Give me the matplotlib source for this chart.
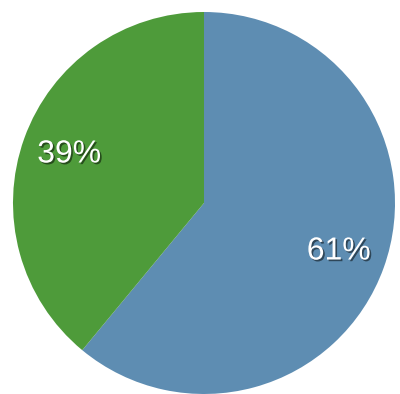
import matplotlib
matplotlib.use("Agg")
import matplotlib.pyplot as plt
import matplotlib.patheffects as pe

labels = ["Blue", "Green"]
values = [61, 39]
colors = ["#5e8db2", "#4e9b3a"]

fig = plt.figure(figsize=(4.0, 3.94), dpi=100)
ax = fig.add_axes([0, 0, 1, 1])
cx, cy, r = 204, 394 - 203, 191
wedges, texts, autotexts = ax.pie(
    values, colors=colors, startangle=90, counterclock=False,
    center=(cx, cy), radius=r, autopct="%d%%", pctdistance=0.75,
    wedgeprops=dict(linewidth=0),
    textprops=dict(color="white", fontsize=23, family="Liberation Sans"),
)
for t in autotexts:
    t.set_path_effects([pe.SimplePatchShadow(offset=(1.2, -1.2), shadow_rgbFace="black", alpha=0.5), pe.Normal()])
ax.set_xlim(0, 400)
ax.set_ylim(0, 394)
ax.set_aspect("equal")
ax.axis("off")
fig.savefig("out.png", dpi=100)
